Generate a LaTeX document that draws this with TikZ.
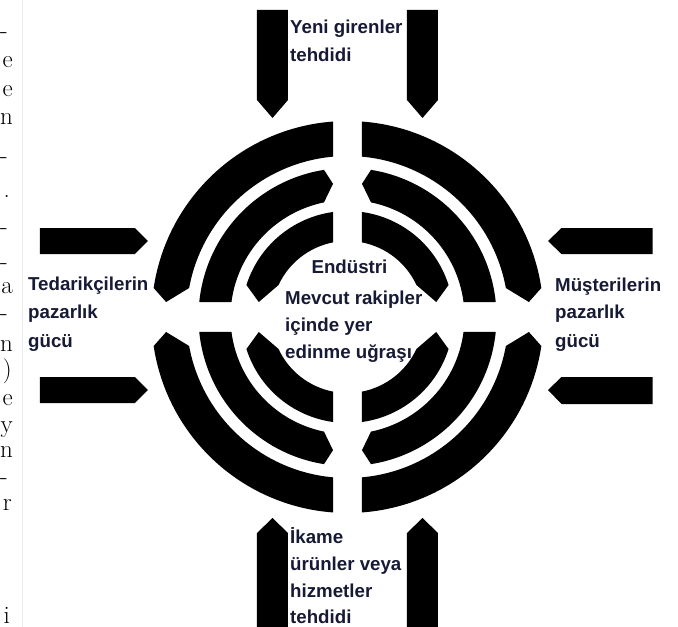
\documentclass[tikz,border=0pt]{standalone}
\usepackage{fontspec}
\newfontfamily\labfont{Liberation Sans}
\definecolor{txt}{RGB}{22,26,52}
\def\rgGapX{14.5}
\def\rgGapY{15}
% ring segment in the upper-left quadrant: flat end at the vertical gap, pointed end at the horizontal gap
% #1 inner radius, #2 outer radius, #3 radius of the tip, #4 depth of the point
\newcommand\RingFP[4]{%
  \pgfmathsetmacro\rgAo{90+asin(\rgGapX/#2)}%
  \pgfmathsetmacro\rgAi{90+asin(\rgGapX/#1)}%
  \pgfmathsetmacro\rgT{180-asin(\rgGapY/#3)}%
  \pgfmathsetmacro\rgCo{180-asin((\rgGapY+#4)/#2)}%
  \pgfmathsetmacro\rgCi{180-asin((\rgGapY+#4)/#1)}%
  \fill[ring] (\rgAo:#2) arc[start angle=\rgAo, end angle=\rgCo, radius=#2pt]
     -- (\rgT:#3) -- (\rgCi:#1)
     arc[start angle=\rgCi, end angle=\rgAi, radius=#1pt] -- cycle;%
}
% ring segment in the upper-left quadrant: pointed end at the vertical gap, flat end at the horizontal gap
\newcommand\RingPF[4]{%
  \pgfmathsetmacro\rgT{90+asin(\rgGapX/#3)}%
  \pgfmathsetmacro\rgCo{90+asin((\rgGapX+#4)/#2)}%
  \pgfmathsetmacro\rgCi{90+asin((\rgGapX+#4)/#1)}%
  \pgfmathsetmacro\rgBo{180-asin(\rgGapY/#2)}%
  \pgfmathsetmacro\rgBi{180-asin(\rgGapY/#1)}%
  \fill[ring] (\rgT:#3) -- (\rgCo:#2) arc[start angle=\rgCo, end angle=\rgBo, radius=#2pt]
     -- (\rgBi:#1) arc[start angle=\rgBi, end angle=\rgCi, radius=#1pt] -- cycle;%
}
\tikzset{
  ring/.style={fill=black},
  arr/.style={fill=black},
  lab/.style={font=\labfont\bfseries\fontsize{18.7}{22}\selectfont, text=txt, inner sep=0pt, anchor=base west},
  edgechar/.style={font=\fontsize{25}{28}\selectfont, inner sep=0pt, anchor=base east}
}
\begin{document}
\begin{tikzpicture}[x=1pt,y=1pt]
\useasboundingbox (-347.5,-310) rectangle (330.5,317);
\fill[white] (-347.5,-310) rectangle (330.5,317);
\begin{scope}
\clip (-347.5,-310) rectangle (330.5,317);
% faint page edge
\draw[black!8, line width=0.8] (-325.5,317) -- (-325.5,-310);
% clipped text of the page at the left edge
\node[edgechar] (s1) at (-339.5,278) {-};
\node[edgechar] (s2) at (-334.5,249) {e};
\node[edgechar] (s3) at (-334.5,220) {e};
\node[edgechar] (s4) at (-334.5,192) {n};
\node[edgechar] (s5) at (-339.5,153) {-};
\node[edgechar] (s6) at (-337.5,119) {.};
\node[edgechar] (s7) at (-339.5,83) {-};
\node[edgechar] (s8) at (-339.5,48) {-};
\node[edgechar] (s9) at (-334.5,24) {a};
\node[edgechar] (s10) at (-339.5,-3) {-};
\node[edgechar] (s11) at (-334.5,-34) {n};
\node[edgechar] (s12) at (-335.5,-60) {)};
\node[edgechar] (s13) at (-334.5,-88) {e};
\node[edgechar] (s14) at (-334.5,-115) {y};
\node[edgechar] (s15) at (-334.5,-140) {n};
\node[edgechar] (s16) at (-339.5,-167) {-};
\node[edgechar] (s17) at (-335.5,-193) {r};
\node[edgechar] (s18) at (-337.5,-306) {i};
% rings
\foreach \sx/\sy in {1/1,-1/1,1/-1,-1/-1}{
  \begin{scope}[xscale=\sx,yscale=\sy]
    \RingFP{161}{196}{182}{14}
    \RingPF{117}{149}{134}{9}
    \RingFP{76}{106}{90}{17}
  \end{scope}
}
% arrows (top)
\fill[arr] (-90.5,307) -- (-59.5,307) -- (-59.5,217) -- (-75,199) -- (-90.5,217) -- cycle;
\fill[arr] (59.5,307) -- (90.5,307) -- (90.5,217) -- (75,199) -- (59.5,217) -- cycle;
% arrows (bottom)
\fill[arr] (-90.5,-315) -- (-59.5,-315) -- (-59.5,-216) -- (-75,-201) -- (-90.5,-216) -- cycle;
\fill[arr] (59.5,-315) -- (90.5,-315) -- (90.5,-216) -- (75,-201) -- (59.5,-216) -- cycle;
% arrows (left)
\fill[arr] (-307.5,89) -- (-212.5,89) -- (-199.5,76) -- (-212.5,63) -- (-307.5,63) -- cycle;
\fill[arr] (-307.5,-60) -- (-212.5,-60) -- (-199.5,-73) -- (-212.5,-86) -- (-307.5,-86) -- cycle;
% arrows (right)
\fill[arr] (305,89) -- (214,89) -- (200.5,76) -- (214,63) -- (305,63) -- cycle;
\fill[arr] (305,-60) -- (214,-60) -- (200.5,-73) -- (214,-87) -- (305,-87) -- cycle;
% labels
\node[lab] (yeni1) at (-57.5,283.5) {Yeni girenler};
\node[lab] (yeni2) at (-57.5,255.5) {tehdidi};
\node[lab] (ted1) at (-319.5,27) {Tedarikçilerin};
\node[lab] (ted2) at (-319.5,-1) {pazarlık};
\node[lab] (ted3) at (-319.5,-30) {gücü};
\node[lab] (mus1) at (207.5,26) {Müşterilerin};
\node[lab] (mus2) at (207.5,-1) {pazarlık};
\node[lab] (mus3) at (207.5,-30) {gücü};
\node[lab,anchor=base] (endu) at (2,44) {Endüstri};
\node[lab] (mev1) at (-62.5,12.3) {Mevcut rakipler};
\node[lab] (mev2) at (-62.5,-14.5) {içinde yer};
\node[lab] (mev3) at (-62.5,-41) {edinme uğraşı};
\node[lab] (ika1) at (-57.5,-226) {İkame};
\node[lab] (ika2) at (-57.5,-253) {ürünler veya};
\node[lab] (ika3) at (-57.5,-280) {hizmetler};
\node[lab] (ika4) at (-57.5,-306) {tehdidi};
\end{scope}
\end{tikzpicture}
\end{document}
